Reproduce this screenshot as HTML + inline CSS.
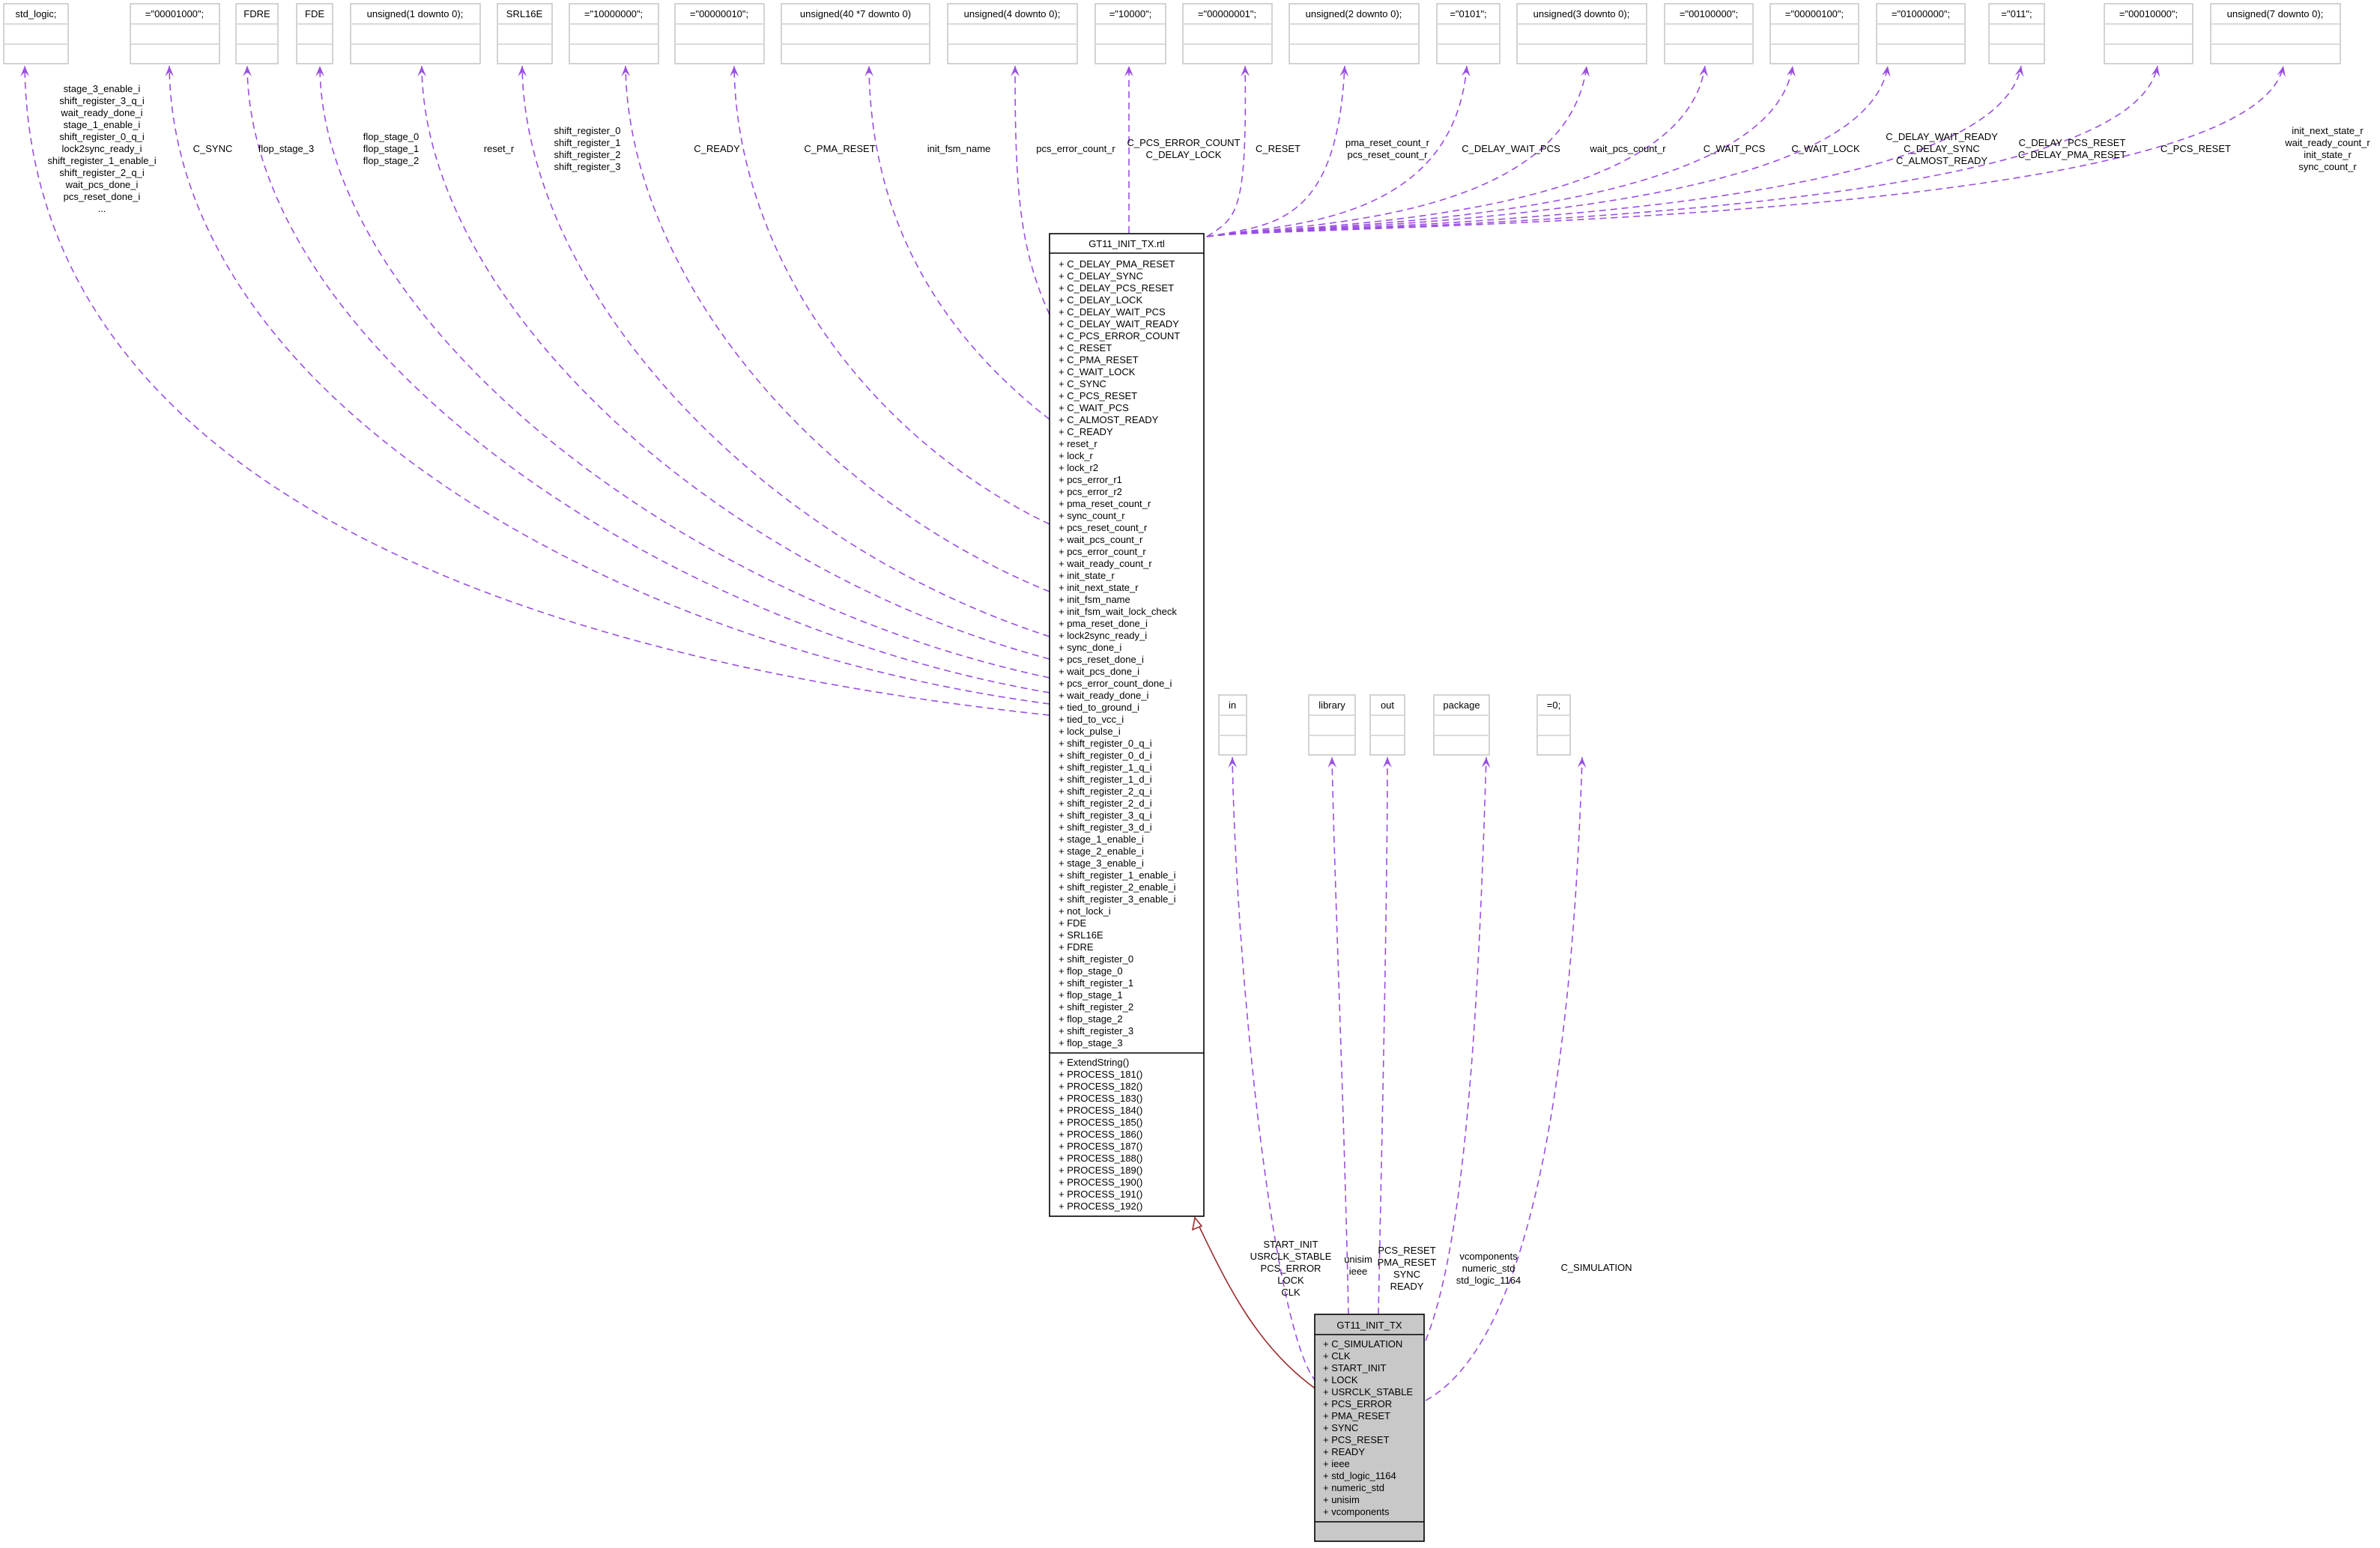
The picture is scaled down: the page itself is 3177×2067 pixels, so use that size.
<!DOCTYPE html>
<html><head><meta charset="utf-8"><style>
html,body{margin:0;padding:0;background:#fff;}
svg{display:block;}
text{font-family:"Liberation Sans","DejaVu Sans",sans-serif;font-size:13px;fill:#000;}
.e{fill:none;stroke:#9a4fe0;stroke-width:1.6;stroke-dasharray:9,6;}
.b{fill:#fff;stroke:#c8c8c8;stroke-width:1.6;}
.d{stroke:#dadada;stroke-width:2;}
</style></head><body>
<svg width="3177" height="2067" viewBox="0 0 3177 2067" xmlns="http://www.w3.org/2000/svg">
<defs>
<marker id="a" viewBox="0 0 12 10" refX="12" refY="5" markerWidth="14" markerHeight="12" markerUnits="userSpaceOnUse" orient="auto">
<path d="M12,5 L0,0 L5,5 L0,10 Z" fill="#9a4fe0"/></marker>
</defs>

<!-- top boxes -->
<g>
<rect class="b" x="5" y="5" width="86" height="80"/><line class="d" x1="5" y1="32" x2="91" y2="32"/><line class="d" x1="5" y1="59" x2="91" y2="59"/><text x="48" y="23" text-anchor="middle">std_logic;</text>
<rect class="b" x="174" y="5" width="119" height="80"/><line class="d" x1="174" y1="32" x2="293" y2="32"/><line class="d" x1="174" y1="59" x2="293" y2="59"/><text x="233" y="23" text-anchor="middle">="00001000";</text>
<rect class="b" x="315" y="5" width="56" height="80"/><line class="d" x1="315" y1="32" x2="371" y2="32"/><line class="d" x1="315" y1="59" x2="371" y2="59"/><text x="343" y="23" text-anchor="middle">FDRE</text>
<rect class="b" x="396" y="5" width="48" height="80"/><line class="d" x1="396" y1="32" x2="444" y2="32"/><line class="d" x1="396" y1="59" x2="444" y2="59"/><text x="420" y="23" text-anchor="middle">FDE</text>
<rect class="b" x="468" y="5" width="173" height="80"/><line class="d" x1="468" y1="32" x2="641" y2="32"/><line class="d" x1="468" y1="59" x2="641" y2="59"/><text x="554" y="23" text-anchor="middle">unsigned(1 downto 0);</text>
<rect class="b" x="664" y="5" width="73" height="80"/><line class="d" x1="664" y1="32" x2="737" y2="32"/><line class="d" x1="664" y1="59" x2="737" y2="59"/><text x="700" y="23" text-anchor="middle">SRL16E</text>
<rect class="b" x="760" y="5" width="119" height="80"/><line class="d" x1="760" y1="32" x2="879" y2="32"/><line class="d" x1="760" y1="59" x2="879" y2="59"/><text x="819" y="23" text-anchor="middle">="10000000";</text>
<rect class="b" x="901" y="5" width="119" height="80"/><line class="d" x1="901" y1="32" x2="1020" y2="32"/><line class="d" x1="901" y1="59" x2="1020" y2="59"/><text x="960" y="23" text-anchor="middle">="00000010";</text>
<rect class="b" x="1043" y="5" width="198" height="80"/><line class="d" x1="1043" y1="32" x2="1241" y2="32"/><line class="d" x1="1043" y1="59" x2="1241" y2="59"/><text x="1142" y="23" text-anchor="middle">unsigned(40 *7 downto 0)</text>
<rect class="b" x="1265" y="5" width="173" height="80"/><line class="d" x1="1265" y1="32" x2="1438" y2="32"/><line class="d" x1="1265" y1="59" x2="1438" y2="59"/><text x="1351" y="23" text-anchor="middle">unsigned(4 downto 0);</text>
<rect class="b" x="1462" y="5" width="94" height="80"/><line class="d" x1="1462" y1="32" x2="1556" y2="32"/><line class="d" x1="1462" y1="59" x2="1556" y2="59"/><text x="1509" y="23" text-anchor="middle">="10000";</text>
<rect class="b" x="1579" y="5" width="119" height="80"/><line class="d" x1="1579" y1="32" x2="1698" y2="32"/><line class="d" x1="1579" y1="59" x2="1698" y2="59"/><text x="1638" y="23" text-anchor="middle">="00000001";</text>
<rect class="b" x="1721" y="5" width="173" height="80"/><line class="d" x1="1721" y1="32" x2="1894" y2="32"/><line class="d" x1="1721" y1="59" x2="1894" y2="59"/><text x="1807" y="23" text-anchor="middle">unsigned(2 downto 0);</text>
<rect class="b" x="1918" y="5" width="84" height="80"/><line class="d" x1="1918" y1="32" x2="2002" y2="32"/><line class="d" x1="1918" y1="59" x2="2002" y2="59"/><text x="1960" y="23" text-anchor="middle">="0101";</text>
<rect class="b" x="2025" y="5" width="173" height="80"/><line class="d" x1="2025" y1="32" x2="2198" y2="32"/><line class="d" x1="2025" y1="59" x2="2198" y2="59"/><text x="2111" y="23" text-anchor="middle">unsigned(3 downto 0);</text>
<rect class="b" x="2222" y="5" width="118" height="80"/><line class="d" x1="2222" y1="32" x2="2340" y2="32"/><line class="d" x1="2222" y1="59" x2="2340" y2="59"/><text x="2281" y="23" text-anchor="middle">="00100000";</text>
<rect class="b" x="2363" y="5" width="118" height="80"/><line class="d" x1="2363" y1="32" x2="2481" y2="32"/><line class="d" x1="2363" y1="59" x2="2481" y2="59"/><text x="2422" y="23" text-anchor="middle">="00000100";</text>
<rect class="b" x="2505" y="5" width="118" height="80"/><line class="d" x1="2505" y1="32" x2="2623" y2="32"/><line class="d" x1="2505" y1="59" x2="2623" y2="59"/><text x="2564" y="23" text-anchor="middle">="01000000";</text>
<rect class="b" x="2655" y="5" width="74" height="80"/><line class="d" x1="2655" y1="32" x2="2729" y2="32"/><line class="d" x1="2655" y1="59" x2="2729" y2="59"/><text x="2692" y="23" text-anchor="middle">="011";</text>
<rect class="b" x="2809" y="5" width="118" height="80"/><line class="d" x1="2809" y1="32" x2="2927" y2="32"/><line class="d" x1="2809" y1="59" x2="2927" y2="59"/><text x="2868" y="23" text-anchor="middle">="00010000";</text>
<rect class="b" x="2951" y="5" width="173" height="80"/><line class="d" x1="2951" y1="32" x2="3124" y2="32"/><line class="d" x1="2951" y1="59" x2="3124" y2="59"/><text x="3037" y="23" text-anchor="middle">unsigned(7 downto 0);</text>
</g>

<!-- second row boxes -->
<g>
<rect class="b" x="1627" y="928" width="37" height="80"/><line class="d" x1="1627" y1="955" x2="1664" y2="955"/><line class="d" x1="1627" y1="982" x2="1664" y2="982"/><text x="1645" y="946" text-anchor="middle">in</text>
<rect class="b" x="1747" y="928" width="62" height="80"/><line class="d" x1="1747" y1="955" x2="1809" y2="955"/><line class="d" x1="1747" y1="982" x2="1809" y2="982"/><text x="1778" y="946" text-anchor="middle">library</text>
<rect class="b" x="1829" y="928" width="46" height="80"/><line class="d" x1="1829" y1="955" x2="1875" y2="955"/><line class="d" x1="1829" y1="982" x2="1875" y2="982"/><text x="1852" y="946" text-anchor="middle">out</text>
<rect class="b" x="1914" y="928" width="74" height="80"/><line class="d" x1="1914" y1="955" x2="1988" y2="955"/><line class="d" x1="1914" y1="982" x2="1988" y2="982"/><text x="1951" y="946" text-anchor="middle">package</text>
<rect class="b" x="2052" y="928" width="44" height="80"/><line class="d" x1="2052" y1="955" x2="2096" y2="955"/><line class="d" x1="2052" y1="982" x2="2096" y2="982"/><text x="2074" y="946" text-anchor="middle">=0;</text>
</g>

<!-- left edges -->
<g>
<path class="e" marker-end="url(#a)" d="M1401,955 C700,880 40,650 33,88"/>
<path class="e" marker-end="url(#a)" d="M1401,940 C800,860 230,520 226,88"/>
<path class="e" marker-end="url(#a)" d="M1401,925 C850,830 332,450 330,88"/>
<path class="e" marker-end="url(#a)" d="M1401,905 C900,800 428,420 427,88"/>
<path class="e" marker-end="url(#a)" d="M1401,880 C950,760 565,400 563,88"/>
<path class="e" marker-end="url(#a)" d="M1401,850 C1000,720 700,380 697,88"/>
<path class="e" marker-end="url(#a)" d="M1401,790 C1080,660 838,360 835,88"/>
<path class="e" marker-end="url(#a)" d="M1401,700 C1150,580 982,330 980,88"/>
<path class="e" marker-end="url(#a)" d="M1401,560 C1260,450 1162,300 1160,88"/>
<path class="e" marker-end="url(#a)" d="M1401,420 C1360,330 1355,250 1355,88"/>
<path class="e" marker-end="url(#a)" d="M1507,311 C1507,220 1507,150 1507,88"/>
</g>

<!-- right edges -->
<g>
<path class="e" marker-end="url(#a)" d="M1611,316 C1650,290 1665,290 1662,88"/>
<path class="e" marker-end="url(#a)" d="M1611,316 C1700,300 1785,300 1795,88"/>
<path class="e" marker-end="url(#a)" d="M1611,316 C1700,300 1940,305 1958,88"/>
<path class="e" marker-end="url(#a)" d="M1611,316 C1700,300 2090,305 2118,88"/>
<path class="e" marker-end="url(#a)" d="M1611,316 C1700,300 2245,305 2276,88"/>
<path class="e" marker-end="url(#a)" d="M1611,316 C1700,300 2360,305 2393,88"/>
<path class="e" marker-end="url(#a)" d="M1611,316 C1700,300 2485,305 2520,88"/>
<path class="e" marker-end="url(#a)" d="M1611,316 C1700,300 2660,305 2698,88"/>
<path class="e" marker-end="url(#a)" d="M1611,316 C1700,300 2840,305 2880,88"/>
<path class="e" marker-end="url(#a)" d="M1611,316 C1700,300 3005,305 3048,88"/>
</g>

<!-- bottom edges -->
<g>
<path class="e" marker-end="url(#a)" d="M1757,1845 C1700,1780 1650,1300 1645,1011"/>
<path class="e" marker-end="url(#a)" d="M1800,1755 C1795,1500 1782,1200 1778,1011"/>
<path class="e" marker-end="url(#a)" d="M1840,1755 C1845,1500 1852,1200 1852,1011"/>
<path class="e" marker-end="url(#a)" d="M1903,1790 C1960,1650 1975,1300 1984,1011"/>
<path class="e" marker-end="url(#a)" d="M1903,1870 C2050,1790 2100,1400 2112,1011"/>
</g>

<!-- inheritance -->
<path d="M1757,1855 C1680,1800 1640,1720 1600,1636" fill="none" stroke="#9b2d2d" stroke-width="1.6"/>
<path d="M1595,1626 L1592,1642 L1604,1637 Z" fill="#fff" stroke="#9b2d2d" stroke-width="1.6"/>

<!-- edge labels -->
<g text-anchor="middle">
<text x="136" y="123"><tspan x="136">stage_3_enable_i</tspan><tspan x="136" dy="16">shift_register_3_q_i</tspan><tspan x="136" dy="16">wait_ready_done_i</tspan><tspan x="136" dy="16">stage_1_enable_i</tspan><tspan x="136" dy="16">shift_register_0_q_i</tspan><tspan x="136" dy="16">lock2sync_ready_i</tspan><tspan x="136" dy="16">shift_register_1_enable_i</tspan><tspan x="136" dy="16">shift_register_2_q_i</tspan><tspan x="136" dy="16">wait_pcs_done_i</tspan><tspan x="136" dy="16">pcs_reset_done_i</tspan><tspan x="136" dy="16">...</tspan></text>
<text x="284" y="203">C_SYNC</text>
<text x="382" y="203">flop_stage_3</text>
<text x="522" y="187"><tspan x="522">flop_stage_0</tspan><tspan x="522" dy="16">flop_stage_1</tspan><tspan x="522" dy="16">flop_stage_2</tspan></text>
<text x="666" y="203">reset_r</text>
<text x="784" y="179"><tspan x="784">shift_register_0</tspan><tspan x="784" dy="16">shift_register_1</tspan><tspan x="784" dy="16">shift_register_2</tspan><tspan x="784" dy="16">shift_register_3</tspan></text>
<text x="957" y="203">C_READY</text>
<text x="1121" y="203">C_PMA_RESET</text>
<text x="1280" y="203">init_fsm_name</text>
<text x="1436" y="203">pcs_error_count_r</text>
<text x="1580" y="195"><tspan x="1580">C_PCS_ERROR_COUNT</tspan><tspan x="1580" dy="16">C_DELAY_LOCK</tspan></text>
<text x="1706" y="203">C_RESET</text>
<text x="1852" y="195"><tspan x="1852">pma_reset_count_r</tspan><tspan x="1852" dy="16">pcs_reset_count_r</tspan></text>
<text x="2017" y="203">C_DELAY_WAIT_PCS</text>
<text x="2173" y="203">wait_pcs_count_r</text>
<text x="2315" y="203">C_WAIT_PCS</text>
<text x="2437" y="203">C_WAIT_LOCK</text>
<text x="2592" y="187"><tspan x="2592">C_DELAY_WAIT_READY</tspan><tspan x="2592" dy="16">C_DELAY_SYNC</tspan><tspan x="2592" dy="16">C_ALMOST_READY</tspan></text>
<text x="2766" y="195"><tspan x="2766">C_DELAY_PCS_RESET</tspan><tspan x="2766" dy="16">C_DELAY_PMA_RESET</tspan></text>
<text x="2931" y="203">C_PCS_RESET</text>
<text x="3107" y="179"><tspan x="3107">init_next_state_r</tspan><tspan x="3107" dy="16">wait_ready_count_r</tspan><tspan x="3107" dy="16">init_state_r</tspan><tspan x="3107" dy="16">sync_count_r</tspan></text>
<text x="1723" y="1666"><tspan x="1723">START_INIT</tspan><tspan x="1723" dy="16">USRCLK_STABLE</tspan><tspan x="1723" dy="16">PCS_ERROR</tspan><tspan x="1723" dy="16">LOCK</tspan><tspan x="1723" dy="16">CLK</tspan></text>
<text x="1813" y="1686"><tspan x="1813">unisim</tspan><tspan x="1813" dy="16">ieee</tspan></text>
<text x="1878" y="1674"><tspan x="1878">PCS_RESET</tspan><tspan x="1878" dy="16">PMA_RESET</tspan><tspan x="1878" dy="16">SYNC</tspan><tspan x="1878" dy="16">READY</tspan></text>
<text x="1987" y="1682"><tspan x="1987">vcomponents</tspan><tspan x="1987" dy="16">numeric_std</tspan><tspan x="1987" dy="16">std_logic_1164</tspan></text>
<text x="2131" y="1697">C_SIMULATION</text>
</g>

<!-- main box -->
<rect x="1401" y="312" width="206" height="1312" fill="#fff" stroke="#000" stroke-width="1.6"/>
<line x1="1401" y1="338" x2="1607" y2="338" stroke="#000" stroke-width="1.6"/>
<line x1="1401" y1="1406" x2="1607" y2="1406" stroke="#000" stroke-width="1.6"/>
<text x="1504" y="330" text-anchor="middle">GT11_INIT_TX.rtl</text>
<text x="1413" y="357"><tspan x="1413">+ C_DELAY_PMA_RESET</tspan><tspan x="1413" dy="16">+ C_DELAY_SYNC</tspan><tspan x="1413" dy="16">+ C_DELAY_PCS_RESET</tspan><tspan x="1413" dy="16">+ C_DELAY_LOCK</tspan><tspan x="1413" dy="16">+ C_DELAY_WAIT_PCS</tspan><tspan x="1413" dy="16">+ C_DELAY_WAIT_READY</tspan><tspan x="1413" dy="16">+ C_PCS_ERROR_COUNT</tspan><tspan x="1413" dy="16">+ C_RESET</tspan><tspan x="1413" dy="16">+ C_PMA_RESET</tspan><tspan x="1413" dy="16">+ C_WAIT_LOCK</tspan><tspan x="1413" dy="16">+ C_SYNC</tspan><tspan x="1413" dy="16">+ C_PCS_RESET</tspan><tspan x="1413" dy="16">+ C_WAIT_PCS</tspan><tspan x="1413" dy="16">+ C_ALMOST_READY</tspan><tspan x="1413" dy="16">+ C_READY</tspan><tspan x="1413" dy="16">+ reset_r</tspan><tspan x="1413" dy="16">+ lock_r</tspan><tspan x="1413" dy="16">+ lock_r2</tspan><tspan x="1413" dy="16">+ pcs_error_r1</tspan><tspan x="1413" dy="16">+ pcs_error_r2</tspan><tspan x="1413" dy="16">+ pma_reset_count_r</tspan><tspan x="1413" dy="16">+ sync_count_r</tspan><tspan x="1413" dy="16">+ pcs_reset_count_r</tspan><tspan x="1413" dy="16">+ wait_pcs_count_r</tspan><tspan x="1413" dy="16">+ pcs_error_count_r</tspan><tspan x="1413" dy="16">+ wait_ready_count_r</tspan><tspan x="1413" dy="16">+ init_state_r</tspan><tspan x="1413" dy="16">+ init_next_state_r</tspan><tspan x="1413" dy="16">+ init_fsm_name</tspan><tspan x="1413" dy="16">+ init_fsm_wait_lock_check</tspan><tspan x="1413" dy="16">+ pma_reset_done_i</tspan><tspan x="1413" dy="16">+ lock2sync_ready_i</tspan><tspan x="1413" dy="16">+ sync_done_i</tspan><tspan x="1413" dy="16">+ pcs_reset_done_i</tspan><tspan x="1413" dy="16">+ wait_pcs_done_i</tspan><tspan x="1413" dy="16">+ pcs_error_count_done_i</tspan><tspan x="1413" dy="16">+ wait_ready_done_i</tspan><tspan x="1413" dy="16">+ tied_to_ground_i</tspan><tspan x="1413" dy="16">+ tied_to_vcc_i</tspan><tspan x="1413" dy="16">+ lock_pulse_i</tspan><tspan x="1413" dy="16">+ shift_register_0_q_i</tspan><tspan x="1413" dy="16">+ shift_register_0_d_i</tspan><tspan x="1413" dy="16">+ shift_register_1_q_i</tspan><tspan x="1413" dy="16">+ shift_register_1_d_i</tspan><tspan x="1413" dy="16">+ shift_register_2_q_i</tspan><tspan x="1413" dy="16">+ shift_register_2_d_i</tspan><tspan x="1413" dy="16">+ shift_register_3_q_i</tspan><tspan x="1413" dy="16">+ shift_register_3_d_i</tspan><tspan x="1413" dy="16">+ stage_1_enable_i</tspan><tspan x="1413" dy="16">+ stage_2_enable_i</tspan><tspan x="1413" dy="16">+ stage_3_enable_i</tspan><tspan x="1413" dy="16">+ shift_register_1_enable_i</tspan><tspan x="1413" dy="16">+ shift_register_2_enable_i</tspan><tspan x="1413" dy="16">+ shift_register_3_enable_i</tspan><tspan x="1413" dy="16">+ not_lock_i</tspan><tspan x="1413" dy="16">+ FDE</tspan><tspan x="1413" dy="16">+ SRL16E</tspan><tspan x="1413" dy="16">+ FDRE</tspan><tspan x="1413" dy="16">+ shift_register_0</tspan><tspan x="1413" dy="16">+ flop_stage_0</tspan><tspan x="1413" dy="16">+ shift_register_1</tspan><tspan x="1413" dy="16">+ flop_stage_1</tspan><tspan x="1413" dy="16">+ shift_register_2</tspan><tspan x="1413" dy="16">+ flop_stage_2</tspan><tspan x="1413" dy="16">+ shift_register_3</tspan><tspan x="1413" dy="16">+ flop_stage_3</tspan></text>
<text x="1413" y="1423"><tspan x="1413">+ ExtendString()</tspan><tspan x="1413" dy="16">+ PROCESS_181()</tspan><tspan x="1413" dy="16">+ PROCESS_182()</tspan><tspan x="1413" dy="16">+ PROCESS_183()</tspan><tspan x="1413" dy="16">+ PROCESS_184()</tspan><tspan x="1413" dy="16">+ PROCESS_185()</tspan><tspan x="1413" dy="16">+ PROCESS_186()</tspan><tspan x="1413" dy="16">+ PROCESS_187()</tspan><tspan x="1413" dy="16">+ PROCESS_188()</tspan><tspan x="1413" dy="16">+ PROCESS_189()</tspan><tspan x="1413" dy="16">+ PROCESS_190()</tspan><tspan x="1413" dy="16">+ PROCESS_191()</tspan><tspan x="1413" dy="16">+ PROCESS_192()</tspan></text>

<!-- GT11_INIT_TX box -->
<rect x="1755" y="1755" width="146" height="303" fill="#c8c8c8" stroke="#000" stroke-width="1.6"/>
<line x1="1755" y1="1782" x2="1901" y2="1782" stroke="#000" stroke-width="1.6"/>
<line x1="1755" y1="2032" x2="1901" y2="2032" stroke="#000" stroke-width="1.6"/>
<text x="1828" y="1774" text-anchor="middle">GT11_INIT_TX</text>
<text x="1766" y="1799"><tspan x="1766">+ C_SIMULATION</tspan><tspan x="1766" dy="16">+ CLK</tspan><tspan x="1766" dy="16">+ START_INIT</tspan><tspan x="1766" dy="16">+ LOCK</tspan><tspan x="1766" dy="16">+ USRCLK_STABLE</tspan><tspan x="1766" dy="16">+ PCS_ERROR</tspan><tspan x="1766" dy="16">+ PMA_RESET</tspan><tspan x="1766" dy="16">+ SYNC</tspan><tspan x="1766" dy="16">+ PCS_RESET</tspan><tspan x="1766" dy="16">+ READY</tspan><tspan x="1766" dy="16">+ ieee</tspan><tspan x="1766" dy="16">+ std_logic_1164</tspan><tspan x="1766" dy="16">+ numeric_std</tspan><tspan x="1766" dy="16">+ unisim</tspan><tspan x="1766" dy="16">+ vcomponents</tspan></text>
</svg>
</body></html>
